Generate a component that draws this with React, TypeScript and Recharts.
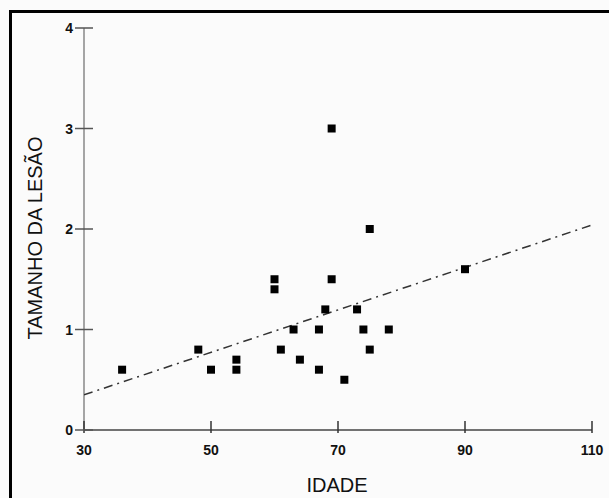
import React from 'react';
import { ScatterChart, Scatter, XAxis, YAxis } from 'recharts';

const ages = [36, 48, 50, 54, 54, 60, 60, 61, 63, 64, 67, 67, 68, 69, 69, 71, 73, 74, 75, 75, 78, 90];
const sizes = [0.6, 0.8, 0.6, 0.7, 0.6, 1.5, 1.4, 0.8, 1.0, 0.7, 1.0, 0.6, 1.2, 3.0, 1.5, 0.5, 1.2, 1.0, 2.0, 0.8, 1.0, 1.6];
const fitX = [30, 110];
const fitY = [0.35, 2.04];
const xTicks = [30, 50, 70, 90, 110];
const yTicks = [0, 1, 2, 3, 4];

const points = ages.map((a, i) => ({ x: a, y: sizes[i] }));
const fitLine = fitX.map((a, i) => ({ x: a, y: fitY[i] }));

const FONT = 'Arial, "Liberation Sans", Helvetica, sans-serif';

const Square = (p: any) => {
  if (p.cx == null || p.cy == null) return <g />;
  return <rect x={p.cx - 4} y={p.cy - 4} width={8} height={8} fill="#000" />;
};
const NoShape = () => <g />;

const YTick = (p: any) => {
  const { x, y, payload } = p;
  return (
    <g>
      <line x1={x + 1} x2={x + 19} y1={y} y2={y} stroke="#555" strokeWidth={1.5} />
      <text x={x - 1} y={y} dy={5} textAnchor="end" fontFamily={FONT} fontSize={14} fontWeight="bold" fill="#111">
        {payload.value}
      </text>
    </g>
  );
};

const XTick = (p: any) => {
  const { x, y, payload } = p;
  return (
    <g>
      <line x1={x} x2={x} y1={y - 12} y2={y} stroke="#333" strokeWidth={1.5} />
      <text x={x} y={y} dy={22} textAnchor="middle" fontFamily={FONT} fontSize={14} fontWeight="bold" fill="#111">
        {payload.value}
      </text>
    </g>
  );
};

export default function App() {
  return (
    <div style={{ position: 'absolute', left: 0, top: 0, width: 609, height: 498, background: '#fbfbfb', overflow: 'hidden' }}>
      <div
        style={{
          position: 'absolute',
          left: 9,
          top: 10,
          width: 700,
          height: 600,
          borderLeft: '3px solid #000',
          borderTop: '3px solid #000',
        }}
      />
      <div style={{ position: 'absolute', left: 0, top: 0 }}>
        <ScatterChart width={609} height={498} margin={{ top: 28, right: 17, bottom: 38, left: 0 }}>
          <XAxis
            type="number"
            dataKey="x"
            domain={[30, 110]}
            ticks={xTicks}
            allowDataOverflow
            height={30}
            tickSize={3}
            tickMargin={0}
            tickLine={false}
            tick={<XTick />}
            axisLine={{ stroke: '#444', strokeWidth: 1.5 }}
            label={{
              content: () => (
                <text x={337} y={492} textAnchor="middle" fontFamily={FONT} fontSize={20} fill="#111">
                  IDADE
                </text>
              ),
            }}
          />
          <YAxis
            type="number"
            dataKey="y"
            domain={[0, 4]}
            ticks={yTicks}
            allowDataOverflow
            width={84}
            tickSize={9}
            tickMargin={1}
            tickLine={false}
            tick={<YTick />}
            axisLine={{ stroke: '#888', strokeWidth: 1.5 }}
            label={{
              content: () => (
                <text x={42} y={238} transform="rotate(-90 42 238)" textAnchor="middle" fontFamily={FONT} fontSize={20} fill="#111">
                  TAMANHO DA LESÃO
                </text>
              ),
            }}
          />
          <Scatter
            data={fitLine}
            line={{ stroke: '#333', strokeWidth: 1.5, strokeDasharray: '9 5 2 5' }}
            lineType="joint"
            shape={<NoShape />}
            isAnimationActive={false}
          />
          <Scatter data={points} shape={<Square />} isAnimationActive={false} />
        </ScatterChart>
      </div>
    </div>
  );
}
